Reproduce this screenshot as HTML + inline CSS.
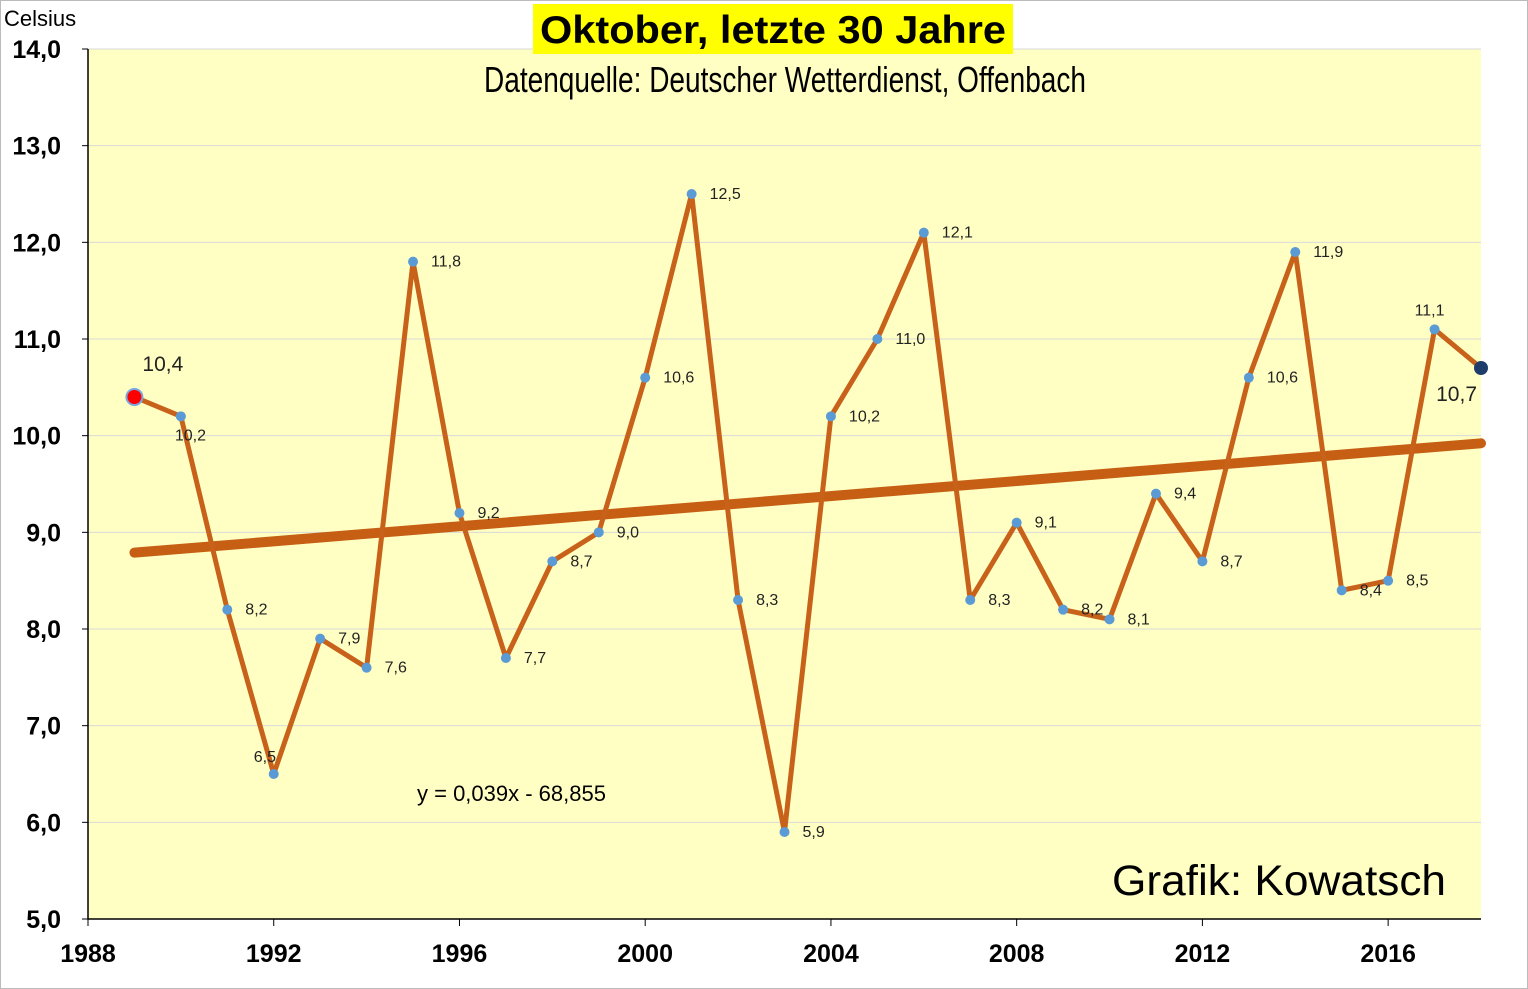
<!DOCTYPE html>
<html><head><meta charset="utf-8"><style>
body{margin:0;background:#fff;}
svg{display:block;font-family:"Liberation Sans",sans-serif;}
</style></head><body>
<svg id="chart" width="1528" height="989" viewBox="0 0 1528 989">
<rect x="0.5" y="0.5" width="1527" height="988" fill="#fff" stroke="#bbb"/>
<rect x="88" y="49" width="1393" height="870" fill="#ffffc4"/>
<g id="grid"></g>
<g id="axes"></g>
<g id="series"></g>
<text x="4" y="26" font-size="22">Celsius</text>
<rect x="533" y="4" width="480" height="50" fill="#ffff00"/>
<text x="773" y="43" font-size="39" font-weight="bold" text-anchor="middle" textLength="466" lengthAdjust="spacingAndGlyphs">Oktober, letzte 30 Jahre</text>
<text x="484" y="92" font-size="36" textLength="602" lengthAdjust="spacingAndGlyphs">Datenquelle: Deutscher Wetterdienst, Offenbach</text>
<text x="417" y="801" font-size="22">y = 0,039x - 68,855</text>
<text x="1446" y="895" font-size="43" text-anchor="end" textLength="334" lengthAdjust="spacingAndGlyphs">Grafik: Kowatsch</text>
</svg>
<script>
const years=[1989,1990,1991,1992,1993,1994,1995,1996,1997,1998,1999,2000,2001,2002,2003,2004,2005,2006,2007,2008,2009,2010,2011,2012,2013,2014,2015,2016,2017,2018];
const temps=[10.4,10.2,8.2,6.5,7.9,7.6,11.8,9.2,7.7,8.7,9.0,10.6,12.5,8.3,5.9,10.2,11.0,12.1,8.3,9.1,8.2,8.1,9.4,8.7,10.6,11.9,8.4,8.5,11.1,10.7];
const yTicks=[5,6,7,8,9,10,11,12,13,14];
const xTicks=[1988,1992,1996,2000,2004,2008,2012,2016];
const trendStart=8.79, trendSlope=0.039;
const X0=88,X1=1481,Y0=919,Y1=49;
const xs=v=>X0+(v-1988)/(2018-1988)*(X1-X0);
const ys=v=>Y0-(v-5)/(14-5)*(Y0-Y1);
const NS="http://www.w3.org/2000/svg";
function mk(t,a,p){const e=document.createElementNS(NS,t);for(const k in a)e.setAttribute(k,a[k]);p.appendChild(e);return e;}
const fmt=v=>v.toFixed(1).replace('.',',');
const grid=document.getElementById('grid'),axes=document.getElementById('axes'),ser=document.getElementById('series');
yTicks.forEach(t=>{
 if(t>5){const g=mk('line',{x1:X0,x2:X1,y1:ys(t),y2:ys(t),stroke:'#d9d9d9','stroke-width':1},grid);
 
 }
 mk('line',{x1:X0-6,x2:X0,y1:ys(t),y2:ys(t),stroke:'#000'},axes);
 const l=mk('text',{x:61,y:ys(t)+9,'font-size':25,'font-weight':'bold','text-anchor':'end'},axes);l.textContent=fmt(t);
 
 
});
xTicks.forEach(t=>{
 mk('line',{x1:xs(t),x2:xs(t),y1:Y0,y2:Y0+7,stroke:'#000'},axes);
 const l=mk('text',{x:xs(t),y:962,'font-size':25,'font-weight':'bold','text-anchor':'middle'},axes);l.textContent=t;
 
 
});
const ax=mk('path',{d:`M${X0},${Y1}V${Y0}H${X1}`,fill:'none',stroke:'#000','stroke-width':1.5},axes);


const tr=mk('line',{x1:xs(1989),y1:ys(trendStart),x2:xs(2018),y2:ys(trendStart+trendSlope*29),stroke:'#c65f14','stroke-width':10,'stroke-linecap':'round'},ser);


const ln=mk('polyline',{points:years.map((y,i)=>xs(y)+','+ys(temps[i])).join(' '),fill:'none',stroke:'#c8621a','stroke-width':5,'stroke-linejoin':'round'},ser);


const last=years.length-1;
years.forEach((y,i)=>{
 const cx=xs(y),cy=ys(temps[i]);
 let r=5,fill='#5b9bd5',stroke='none';
 if(i===0){r=8;fill='#ff0000';stroke='#7aa7e0';}
 if(i===last){r=7;fill='#1f3d6b';}
 const c=mk('circle',{cx:cx,cy:cy,r:r,fill:fill,stroke:stroke,'stroke-width':2},ser);
 
 
 let lx=cx+18,ly=cy+5,fs=16,anchor='start';
 if(i===0){lx=cx+8;ly=cy-26;fs=21;}
 else if(i===last){lx=cx-4;ly=cy+33;fs=21;anchor='end';}
 else if(i===1){lx=cx-6;ly=cy+24;}
 else if(i===3){lx=cx-20;ly=cy-12;}
 else if(i===28){lx=cx-20;ly=cy-14;}
 const t=mk('text',{x:lx,y:ly,'font-size':fs,'text-anchor':anchor,fill:'#222'},ser);
 t.textContent=fmt(temps[i]);
 
 
});
</script>
</body></html>
